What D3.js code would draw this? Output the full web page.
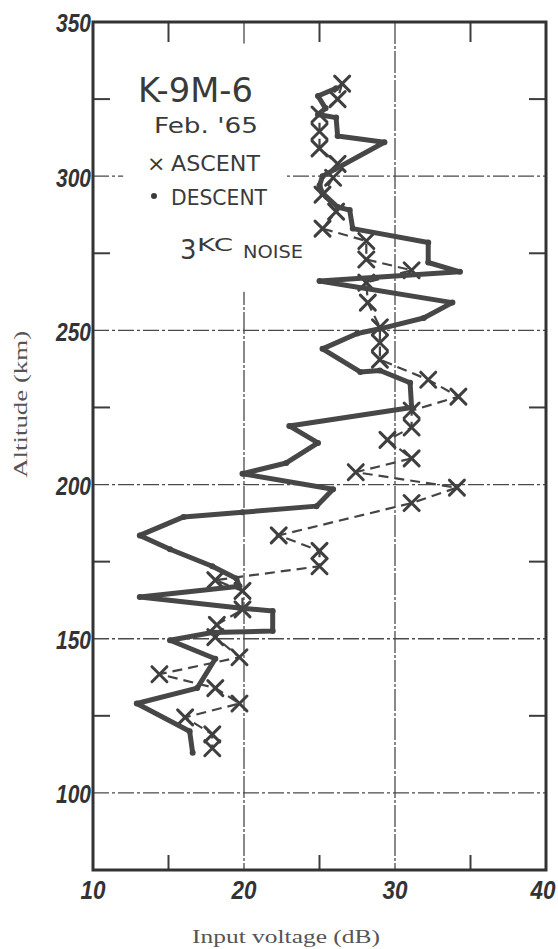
<!DOCTYPE html>
<html>
<head>
<meta charset="utf-8">
<script src="https://cdn.jsdelivr.net/npm/d3@7"></script>
<style>
  html, body { margin: 0; padding: 0; background: #fff; }
  svg { display: block; }
  .hand { font-family: "DejaVu Sans", sans-serif; fill: #3a3a3a; }
  .tick-label { font-family: "Liberation Sans", sans-serif; font-style: italic; font-weight: bold; fill: #333; }
  .axis-title { font-family: "Liberation Serif", serif; fill: #555; }
</style>
</head>
<body>
<svg id="chart" width="558" height="949"></svg>
<script>
// descent (solid line with dots) top to bottom
const descentAlt = [328.5, 326, 322, 320, 319, 313, 311, 300, 297, 294.5, 290, 289, 283, 278.5, 272, 269, 266,
  259, 254, 250.5, 249, 244, 236.5, 237, 233, 225, 219, 213.5, 207, 203.5, 198.5, 193, 191, 189.5, 183.5,
  179, 173.5, 169.5, 167, 163.5, 160, 159, 152.5, 152, 149.5, 143.5, 134, 129, 120, 113];
const descentDb = [26.1, 24.9, 25.4, 24.9, 26.1, 26.2, 29.3, 25.2, 25.0, 25.2, 26.2, 27.0, 27.2, 32.2, 32.2, 34.3, 25.0,
  33.8, 31.9, 29.0, 27.5, 25.2, 27.7, 29.0, 31.0, 31.1, 23.0, 24.9, 22.8, 19.9, 25.9, 24.8, 19.9, 16.0, 13.1,
  15.1, 17.9, 19.5, 19.7, 13.1, 19.7, 21.9, 21.9, 17.9, 15.1, 18.1, 16.9, 12.9, 16.4, 16.6];

// ascent (x markers, dashed)
const ascentAlt = [330, 325, 320, 314.5, 309, 304, 299.5, 294, 288.5, 283, 279, 273, 269.5, 265.5, 259, 251,
  246, 240.5, 234, 228.5, 224, 218.5, 214.5, 208.5, 204, 199, 194, 183.5, 178.5, 173.5, 169, 165.5, 159.5,
  154.5, 150.5, 144, 138.5, 134, 129, 124.5, 119, 114.5];
const ascentDb = [26.5, 26.2, 25.0, 25.0, 25.0, 26.2, 25.9, 25.2, 26.1, 25.2, 28.1, 28.1, 31.1, 28.1, 28.2, 29.0,
  29.0, 29.0, 32.2, 34.2, 31.1, 31.1, 29.5, 31.1, 27.4, 34.1, 31.1, 22.3, 25.0, 25.0, 18.1, 19.9, 19.9,
  18.2, 18.1, 19.7, 14.4, 18.1, 19.7, 16.1, 17.9, 17.9];

const xTicks = [10, 20, 30, 40];
const xMinorTicks = [15, 25, 35];
const yTicks = [100, 150, 200, 250, 300, 350];
const yMinorTicks = [125, 175, 225, 275, 325];
const xGrid = [20, 30];
const yGrid = [100, 150, 200, 250, 300];

const ink = "#3d3d3d";
const margin = { top: 22, right: 12, bottom: 79, left: 93 };
const W = 558, H = 949;
const iw = W - margin.left - margin.right;
const ih = H - margin.top - margin.bottom;

const svg = d3.select("#chart");
const g = svg.append("g").attr("transform", `translate(${margin.left},${margin.top})`);

const x = d3.scaleLinear().domain([10, 40]).range([0, iw]);
const y = d3.scaleLinear().domain([75, 350]).range([ih, 0]);

// grid lines
g.selectAll("line.hgrid").data(yGrid).join("line")
  .attr("class", "hgrid")
  .attr("x1", 0).attr("x2", iw)
  .attr("y1", d => y(d)).attr("y2", d => y(d))
  .attr("stroke", "#4a4a4a").attr("stroke-width", 1.3)
  .attr("stroke-dasharray", "16,3,3,3");

g.selectAll("line.vgrid").data(xGrid).join("line")
  .attr("class", "vgrid")
  .attr("x1", d => x(d)).attr("x2", d => x(d))
  .attr("y1", 0).attr("y2", ih)
  .attr("stroke", "#4a4a4a").attr("stroke-width", 1.3)
  .attr("stroke-dasharray", "22,2,3,2");

// minor ticks (inside the frame)
const tl = 17;
g.selectAll("line.ltick").data(yMinorTicks).join("line")
  .attr("x1", 0).attr("x2", tl).attr("y1", d => y(d)).attr("y2", d => y(d))
  .attr("stroke", ink).attr("stroke-width", 2);
g.selectAll("line.rtick").data(yMinorTicks).join("line")
  .attr("x1", iw - tl).attr("x2", iw).attr("y1", d => y(d)).attr("y2", d => y(d))
  .attr("stroke", ink).attr("stroke-width", 2);
g.selectAll("line.ttick").data(xMinorTicks).join("line")
  .attr("x1", d => x(d)).attr("x2", d => x(d)).attr("y1", 0).attr("y2", 20)
  .attr("stroke", ink).attr("stroke-width", 2);
g.selectAll("line.btick").data(xMinorTicks).join("line")
  .attr("x1", d => x(d)).attr("x2", d => x(d)).attr("y1", ih - 15).attr("y2", ih)
  .attr("stroke", ink).attr("stroke-width", 2);

// white patch behind the handwritten legend
const lg = g.append("g").attr("class", "legend");
lg.append("rect")
  .attr("x", x(12)).attr("y", y(343))
  .attr("width", x(22.7) - x(12)).attr("height", y(262.5) - y(343))
  .attr("fill", "#fff");

// frame
g.append("rect")
  .attr("width", iw).attr("height", ih)
  .attr("fill", "none").attr("stroke", "#333").attr("stroke-width", 3);

// tick labels
g.selectAll("text.ylab").data(yTicks).join("text")
  .attr("class", "tick-label")
  .attr("x", -2).attr("y", d => y(d) + 1)
  .attr("dy", "0.36em")
  .attr("text-anchor", "end")
  .attr("font-size", 26)
  .attr("textLength", 35).attr("lengthAdjust", "spacingAndGlyphs")
  .text(d => d);

g.selectAll("text.xlab").data(xTicks).join("text")
  .attr("class", "tick-label")
  .attr("x", d => x(d) + (d === 40 ? -3 : 0)).attr("y", ih + 29)
  .attr("text-anchor", "middle")
  .attr("font-size", 26)
  .attr("textLength", 25).attr("lengthAdjust", "spacingAndGlyphs")
  .text(d => d);

// axis titles
svg.append("text")
  .attr("class", "axis-title")
  .attr("transform", `translate(27,${margin.top + y(226)}) rotate(-90)`)
  .attr("text-anchor", "middle")
  .attr("font-size", 18)
  .attr("textLength", 147).attr("lengthAdjust", "spacingAndGlyphs")
  .text("Altitude (km)");

svg.append("text")
  .attr("class", "axis-title")
  .attr("x", 286).attr("y", 943)
  .attr("text-anchor", "middle")
  .attr("font-size", 18)
  .attr("textLength", 188).attr("lengthAdjust", "spacingAndGlyphs")
  .text("Input voltage (dB)");

// ascent: dashed connection and x markers
const ascent = ascentAlt.map((a, i) => ({ alt: a, db: ascentDb[i] }));
const descent = descentAlt.map((a, i) => ({ alt: a, db: descentDb[i] }));

const line = d3.line().x(d => x(d.db)).y(d => y(d.alt));

g.append("path")
  .datum(ascent)
  .attr("d", line)
  .attr("fill", "none")
  .attr("stroke", "#444").attr("stroke-width", 2.2)
  .attr("stroke-dasharray", "10,6");

const xr = 7.5;
g.selectAll("path.xmark").data(ascent).join("path")
  .attr("class", "xmark")
  .attr("d", d => {
    const cx = x(d.db), cy = y(d.alt);
    return `M${cx - xr},${cy - xr}L${cx + xr},${cy + xr}M${cx - xr},${cy + xr}L${cx + xr},${cy - xr}`;
  })
  .attr("stroke", "#3f3f3f").attr("stroke-width", 3)
  .attr("stroke-linecap", "round");

// descent: thick line with dots
g.append("path")
  .datum(descent)
  .attr("d", line)
  .attr("fill", "none")
  .attr("stroke", "#474747").attr("stroke-width", 5)
  .attr("stroke-linejoin", "round");

g.selectAll("circle.dot").data(descent).join("circle")
  .attr("class", "dot")
  .attr("cx", d => x(d.db)).attr("cy", d => y(d.alt))
  .attr("r", 3)
  .attr("fill", "#444");

// handwritten legend
svg.append("text").attr("class", "hand")
  .attr("x", 138).attr("y", 102)
  .attr("font-size", 34)
  .attr("textLength", 115).attr("lengthAdjust", "spacingAndGlyphs")
  .text("K-9M-6");

svg.append("text").attr("class", "hand")
  .attr("x", 154).attr("y", 133)
  .attr("font-size", 21)
  .attr("textLength", 104).attr("lengthAdjust", "spacingAndGlyphs")
  .text("Feb. '65");

svg.append("text").attr("class", "hand")
  .attr("x", 147).attr("y", 171)
  .attr("font-size", 22)
  .text("×");
svg.append("text").attr("class", "hand")
  .attr("x", 171).attr("y", 171)
  .attr("font-size", 22)
  .attr("textLength", 89).attr("lengthAdjust", "spacingAndGlyphs")
  .text("ASCENT");

svg.append("circle")
  .attr("cx", 154).attr("cy", 196).attr("r", 3)
  .attr("fill", "#3a3a3a");
svg.append("text").attr("class", "hand")
  .attr("x", 171).attr("y", 205)
  .attr("font-size", 22)
  .attr("textLength", 96).attr("lengthAdjust", "spacingAndGlyphs")
  .text("DESCENT");

svg.append("text").attr("class", "hand")
  .attr("x", 180).attr("y", 259)
  .attr("font-size", 26)
  .text("3");
svg.append("text").attr("class", "hand")
  .attr("x", 197).attr("y", 251)
  .attr("font-size", 18)
  .attr("textLength", 36).attr("lengthAdjust", "spacingAndGlyphs")
  .text("KC");
svg.append("text").attr("class", "hand")
  .attr("x", 243).attr("y", 258)
  .attr("font-size", 18)
  .attr("textLength", 60).attr("lengthAdjust", "spacingAndGlyphs")
  .text("NOISE");
</script>
</body>
</html>
